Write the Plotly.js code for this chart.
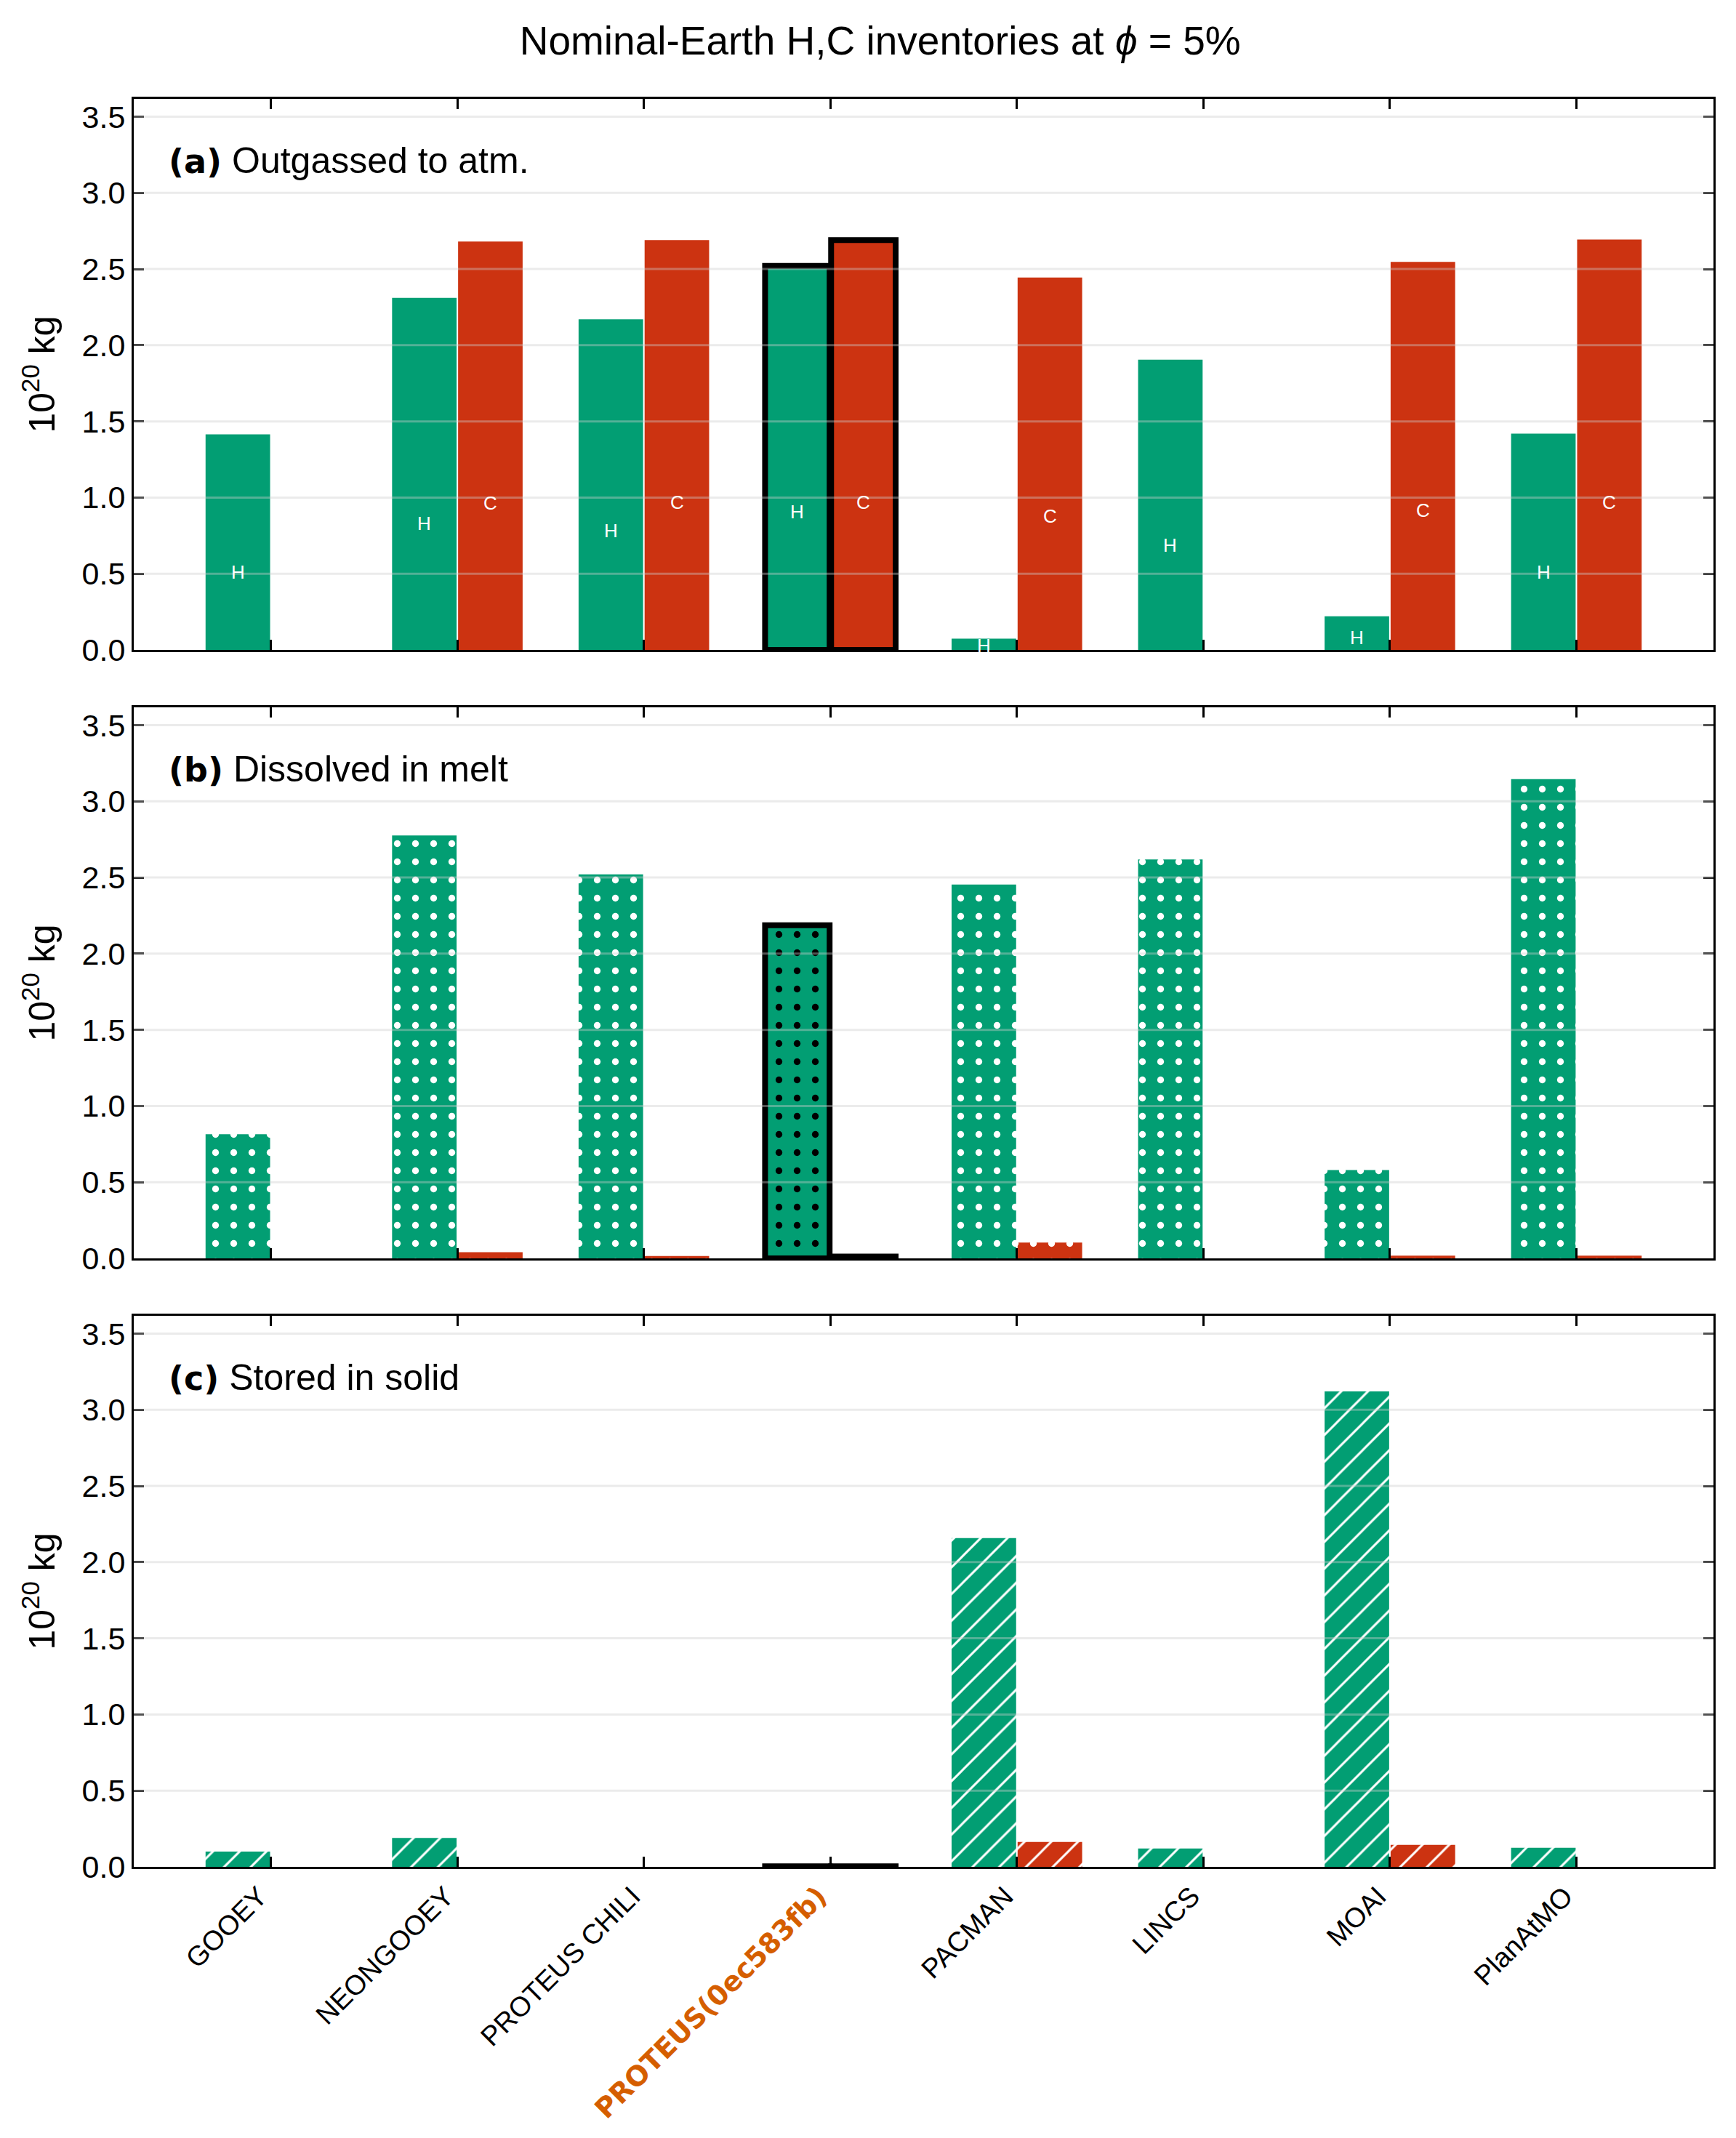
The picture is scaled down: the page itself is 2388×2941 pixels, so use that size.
<!DOCTYPE html>
<html>
<head>
<meta charset="utf-8">
<script src="https://cdn.plot.ly/plotly-3.0.1.min.js"></script>
<style>html,body{margin:0;padding:0;background:#fff}</style>
</head>
<body>
<div id="chart" style="width:2388px;height:2941px"></div>
<script>
// Models compared (one group of H and C bars per model)
const models = ['GOOEY', 'NEONGOOEY', 'PROTEUS CHILI', 'PROTEUS(0ec583fb)', 'PACMAN', 'LINCS', 'MOAI', 'PlanAtMO'];
const highlight = 'PROTEUS(0ec583fb)';

// Inventories in units of 1e20 kg (null = not reported)
const atmH   = [1.415, 2.31, 2.17, 2.52, 0.074, 1.905, 0.221, 1.42];
const atmC   = [null, 2.68, 2.69, 2.69, 2.444, null, 2.547, 2.694];
const meltH  = [0.815, 2.776, 2.52, 2.187, 2.454, 2.618, 0.58, 3.145];
const meltC  = [null, 0.04, 0.016, 0.012, 0.104, null, 0.018, 0.018];
const solidH = [0.10, 0.19, null, 0.003, 2.158, 0.12, 3.12, 0.125];
const solidC = [null, null, null, 0.003, 0.163, null, 0.144, null];

const panelTitles = ['Outgassed to atm.', 'Dissolved in melt', 'Stored in solid'];
const panelTags = ['(a)', '(b)', '(c)'];
const yTicks = [0, 0.5, 1.0, 1.5, 2.0, 2.5, 3.0, 3.5];

const H_COLOR = '#029E73';
const C_COLOR = '#CC3311';
const HL_COLOR = '#D55E00';
const FONT = 'Liberation Sans, Arial, Helvetica, sans-serif';
const BOLD_FONT = 'DejaVu Sans';

const allVals = [].concat(meltH, atmH, atmC, solidH).filter(v => v !== null);
const Y_MAX = Math.max(...allVals) * 1.15;
const X_RANGE = [-0.735, models.length - 1 + 0.735];
const BAR_W = 0.346;
const H_OFF = -0.35, C_OFF = 0.004;

const isHL = models.map(m => m === highlight);
const edgeW = isHL.map(h => h ? 8 : 0);
const patColor = isHL.map(h => h ? 'black' : 'white');

const patterns = [
  null,
  {shape: '.', size: 25, solidity: 0.11},
  {shape: '/', size: 26, solidity: 0.115}
];

const axIds = ['', '2', '3'];
const series = [[atmH, atmC], [meltH, meltC], [solidH, solidC]];

function barTrace(vals, color, offset, ax, pattern) {
  const marker = {color: color, line: {color: 'black', width: edgeW}};
  if (pattern) {
    marker.pattern = Object.assign({fgcolor: patColor, fgopacity: 1, fillmode: 'overlay'}, pattern);
  }
  return {
    type: 'bar', x: models, y: vals, width: BAR_W, offset: offset,
    marker: marker, xaxis: 'x' + ax, yaxis: 'y' + ax,
    hoverinfo: 'skip', showlegend: false
  };
}

const traces = [];
series.forEach((pair, i) => {
  traces.push(barTrace(pair[0], H_COLOR, H_OFF, axIds[i], patterns[i]));
  traces.push(barTrace(pair[1], C_COLOR, C_OFF, axIds[i], patterns[i]));
});

// Element letters inside the outgassed bars
const annotations = [];
[[atmH, 'H', H_OFF], [atmC, 'C', C_OFF]].forEach(([vals, label, off]) => {
  vals.forEach((v, k) => {
    if (v === null) return;
    annotations.push({
      x: k + off + BAR_W / 2, y: v * 0.36, xref: 'x', yref: 'y',
      text: label, showarrow: false, xanchor: 'center', yanchor: 'middle',
      font: {family: FONT, size: 26, color: 'white'}
    });
  });
});

// Panel captions
panelTitles.forEach((t, i) => {
  annotations.push({
    x: 0.021, y: 0.888, xref: 'x' + axIds[i] + ' domain', yref: 'y' + axIds[i] + ' domain',
    xanchor: 'left', yanchor: 'middle', showarrow: false,
    text: '<b><span style="font-family:' + BOLD_FONT + ';font-size:46px">' + panelTags[i] + '</span></b> ' + t,
    font: {family: FONT, size: 50, color: 'black'}
  });
});

// Horizontal grid drawn over the bars
const shapes = [];
axIds.forEach(ax => {
  yTicks.slice(1).forEach(t => {
    shapes.push({
      type: 'line', xref: 'x' + ax + ' domain', yref: 'y' + ax,
      x0: 0, x1: 1, y0: t, y1: t, layer: 'above',
      line: {color: 'rgba(205,205,205,0.4)', width: 3}
    });
  });
});

const tickText = models.map(m => m === highlight
  ? '<b><span style="color:' + HL_COLOR + ';font-family:' + BOLD_FONT + '">' + m + '</span></b>'
  : m);

const domains = [[0.68832, 1], [0.34416, 0.65584], [0, 0.31168]];

const layout = {
  width: 2388, height: 2941,
  paper_bgcolor: 'white', plot_bgcolor: 'white',
  margin: {l: 184, r: 31, t: 136, b: 373},
  barmode: 'overlay',
  font: {family: FONT, color: 'black'},
  title: {
    text: 'Nominal-Earth H,C inventories at <i>ϕ</i> = 5%',
    x: 0.507, xref: 'container', xanchor: 'center',
    y: 0.981, yref: 'container', yanchor: 'middle',
    font: {family: FONT, size: 55, color: 'black'}
  },
  annotations: annotations,
  shapes: shapes
};

axIds.forEach((ax, i) => {
  layout['xaxis' + ax] = {
    type: 'category', range: X_RANGE, anchor: 'y' + ax,
    tickvals: models, ticktext: tickText,
    showticklabels: i === 2, tickangle: -45, ticklabelshift: -16,
    tickfont: {family: FONT, size: 38, color: 'black'},
    ticks: 'inside', ticklen: 14, tickwidth: 3, tickcolor: 'black',
    showline: true, linecolor: 'black', linewidth: 3, mirror: 'ticks',
    showgrid: false, zeroline: false
  };
  layout['yaxis' + ax] = {
    domain: domains[i], anchor: 'x' + ax,
    range: [0, Y_MAX], tickvals: yTicks, tickformat: '.1f',
    tickfont: {family: FONT, size: 43, color: 'black'},
    ticks: 'inside', ticklen: 14, tickwidth: 3, tickcolor: 'black',
    showline: true, linecolor: 'black', linewidth: 3, mirror: 'ticks',
    showgrid: false, zeroline: false,
    title: {text: '10<sup>20</sup> kg', font: {family: FONT, size: 50, color: 'black'}, standoff: 22}
  };
});

Plotly.newPlot('chart', traces, layout, {staticPlot: true, displayModeBar: false});
</script>
</body>
</html>
